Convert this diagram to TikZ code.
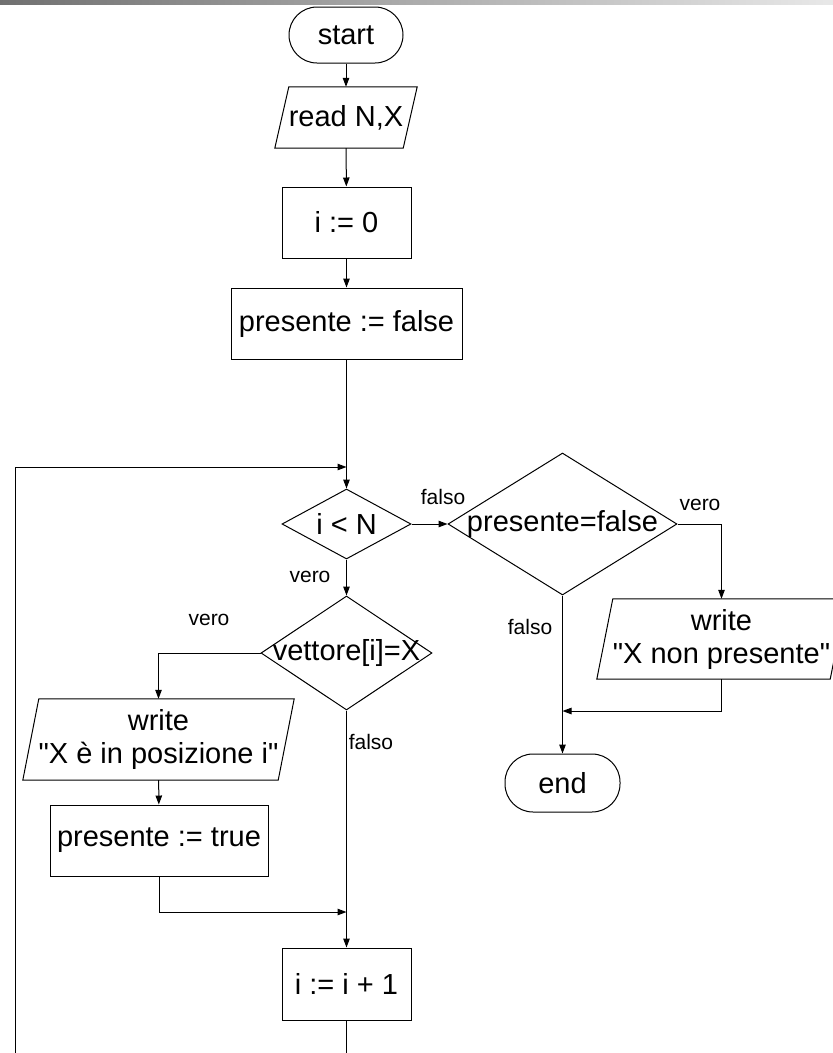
\documentclass[tikz,border=0pt]{standalone}
\usepackage{fontspec}
% a family declared with \newfontfamily keeps the plain straight quote
\newfontfamily\chartfont{Liberation Sans}
\usetikzlibrary{shapes.geometric,arrows.meta,calc}

\begin{document}
\begin{tikzpicture}[x=1pt,y=-1pt,
  every node/.style={font=\chartfont\fontsize{29}{33}\selectfont, inner sep=0pt},
  line/.style={draw=black, line width=1pt},
  flow/.style={line, -{Triangle[length=9pt,width=6.5pt]}},
  term/.style={line, rectangle, rounded corners=28pt, minimum width=114pt, minimum height=56pt},
  proc/.style={line, rectangle, minimum height=71pt},
  iobox/.style={rectangle, align=center},
  dec/.style={line, diamond},
  lbl/.style={font=\chartfont\fontsize{21}{24}\selectfont}
]
\useasboundingbox (0,0) rectangle (833,1053);
\clip (0,0) rectangle (833,1053);

% title bar
\shade[left color=black!56, right color=black!9] (0,0) rectangle (833,4);

% terminals
\node[term] (start) at (346,35) {start};
\node[term, minimum width=115pt, minimum height=58pt] (end) at (562.5,783) {end};

% input / output blocks (drawn as parallelograms below)
\node[iobox, minimum width=142pt, minimum height=61pt] (rd) at (346,117.5) {read N,X};
\node[iobox, minimum width=249pt, minimum height=80pt] (w1) at (721.5,639) {write\\"X non presente"};
\node[iobox, minimum width=271pt, minimum height=81pt] (w2) at (158.5,739.5) {write\\"X è in posizione i"};

\draw[line] ($(rd.north west)+(14,0)$) -- (rd.north east) -- ($(rd.south east)+(-14,0)$) -- (rd.south west) -- cycle;
\draw[line] ($(w1.north west)+(16,0)$) -- (w1.north east) -- ($(w1.south east)+(-16,0)$) -- (w1.south west) -- cycle;
\draw[line] ($(w2.north west)+(16,0)$) -- (w2.north east) -- ($(w2.south east)+(-16,0)$) -- (w2.south west) -- cycle;

% processes
\node[proc, minimum width=129pt] (init) at (346.5,222.5) {i := 0};
\node[proc, minimum width=231pt] (pf0) at (346.5,323.5) {presente := false};
\node[proc, minimum width=218pt] (ptrue) at (159,840.5) {presente := true};
\node[proc, minimum width=129pt, minimum height=72pt] (inc) at (346.5,984) {i := i + 1};

% decisions
\node[dec, minimum width=129pt, minimum height=70pt, label={center:i < N}] (c1) at (346.5,524) {};
\node[dec, minimum width=229pt, minimum height=142pt, label={center:presente=false}] (c2) at (562.5,524) {};
\node[dec, minimum width=171pt, minimum height=114pt, label={center:vettore[i]=X}] (c3) at (346.5,653) {};

% junction points
\coordinate (j1) at (346.5,467);
\coordinate (j2) at (562.5,711);
\coordinate (j3) at (346.5,912);
\coordinate (lb) at (15,1070);

% connectors
\draw[flow] (start) -- (rd);
\draw[flow] (rd) -- (init);
\draw[flow] (init) -- (pf0);
\draw[flow] (pf0) -- (c1);
\draw[flow] (c1) -- (c2);
\draw[flow] (c1) -- (c3);
\draw[flow] (c2.east) -| (w1.north);
\draw[flow] (c2.south) -- (end.north);
\draw[flow] (w1.south) |- (j2);
\draw[flow] (c3.west) -| (w2.north);
\draw[flow] (w2) -- (ptrue);
\draw[flow] (ptrue.south) |- (j3);
\draw[flow] (c3.south) -- (inc.north);
\draw[flow] (inc.south) |- (lb) |- (j1);

% branch labels
\node[lbl] (l1) at (443,497) {falso};
\node[lbl] (l2) at (700,505) {vero};
\node[lbl] (l3) at (530,627) {falso};
\node[lbl] (l4) at (310,577) {vero};
\node[lbl] (l5) at (209,620) {vero};
\node[lbl] (l6) at (371,742) {falso};
\end{tikzpicture}
\end{document}
